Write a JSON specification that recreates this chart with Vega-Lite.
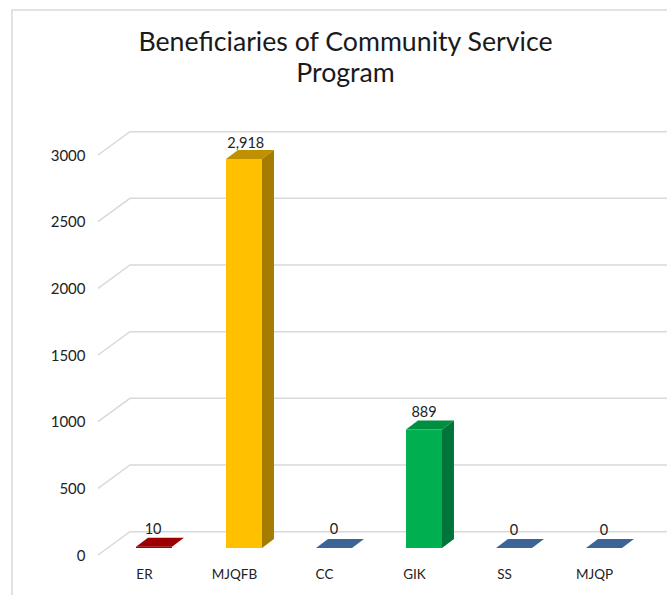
{
"$schema":"https://vega.github.io/schema/vega-lite/v6.json",
"width":577,"height":452,
"autosize":{"type":"none"},
"padding":{"left":90,"top":110,"right":0,"bottom":33},
"background":"white",
"title":{"text":["Beneficiaries of Community Service","Program"],"font":"Lato","fontSize":26.7,"fontWeight":"normal","color":"#1a1a1a","lineHeight":31.5,"anchor":"middle","frame":"group","dx":-33,"offset":-81},
"config":{"view":{"stroke":null}},
"datasets":{
"frame":[{"x":-0.478,"y":-300,"step":1},{"x":-0.478,"y":4087.5,"step":2},{"x":6.8,"y":4087.5,"step":3}],
"grid":[
{"level":0,"x":0.478,"y":0,"step":1},{"level":0,"x":0.833,"y":175,"step":2},{"level":0,"x":6.8,"y":175,"step":3},
{"level":500,"x":0.478,"y":500,"step":1},{"level":500,"x":0.833,"y":675,"step":2},{"level":500,"x":6.8,"y":675,"step":3},
{"level":1000,"x":0.478,"y":1000,"step":1},{"level":1000,"x":0.833,"y":1175,"step":2},{"level":1000,"x":6.8,"y":1175,"step":3},
{"level":1500,"x":0.478,"y":1500,"step":1},{"level":1500,"x":0.833,"y":1675,"step":2},{"level":1500,"x":6.8,"y":1675,"step":3},
{"level":2000,"x":0.478,"y":2000,"step":1},{"level":2000,"x":0.833,"y":2175,"step":2},{"level":2000,"x":6.8,"y":2175,"step":3},
{"level":2500,"x":0.478,"y":2500,"step":1},{"level":2500,"x":0.833,"y":2675,"step":2},{"level":2500,"x":6.8,"y":2675,"step":3},
{"level":3000,"x":0.478,"y":3000,"step":1},{"level":3000,"x":0.833,"y":3175,"step":2},{"level":3000,"x":6.8,"y":3175,"step":3}
],
"faces":[
{"face":"ER top","x":0.9,"y":62.5,"y2":62.5},{"face":"ER top","x":1.033,"y":62.5,"y2":130},{"face":"ER top","x":1.3,"y":62.5,"y2":130},{"face":"ER top","x":1.433,"y":130,"y2":130},
{"face":"ER front","x":0.9,"y":52.5,"y2":62.5},{"face":"ER front","x":1.3,"y":52.5,"y2":62.5},
{"face":"MJQFB top","x":1.9,"y":2970.5,"y2":2970.5},{"face":"MJQFB top","x":2.033,"y":2970.5,"y2":3038},{"face":"MJQFB top","x":2.3,"y":2970.5,"y2":3038},{"face":"MJQFB top","x":2.433,"y":3038,"y2":3038},
{"face":"MJQFB side","x":2.3,"y":52.5,"y2":2970.5},{"face":"MJQFB side","x":2.433,"y":120,"y2":3038},
{"face":"MJQFB front","x":1.9,"y":52.5,"y2":2970.5},{"face":"MJQFB front","x":2.3,"y":52.5,"y2":2970.5},
{"face":"CC top","x":2.9,"y":52.5,"y2":52.5},{"face":"CC top","x":3.033,"y":52.5,"y2":120},{"face":"CC top","x":3.3,"y":52.5,"y2":120},{"face":"CC top","x":3.433,"y":120,"y2":120},
{"face":"GIK top","x":3.9,"y":941.5,"y2":941.5},{"face":"GIK top","x":4.033,"y":941.5,"y2":1009},{"face":"GIK top","x":4.3,"y":941.5,"y2":1009},{"face":"GIK top","x":4.433,"y":1009,"y2":1009},
{"face":"GIK side","x":4.3,"y":52.5,"y2":941.5},{"face":"GIK side","x":4.433,"y":120,"y2":1009},
{"face":"GIK front","x":3.9,"y":52.5,"y2":941.5},{"face":"GIK front","x":4.3,"y":52.5,"y2":941.5},
{"face":"SS top","x":4.9,"y":52.5,"y2":52.5},{"face":"SS top","x":5.033,"y":52.5,"y2":120},{"face":"SS top","x":5.3,"y":52.5,"y2":120},{"face":"SS top","x":5.433,"y":120,"y2":120},
{"face":"MJQP top","x":5.9,"y":52.5,"y2":52.5},{"face":"MJQP top","x":6.033,"y":52.5,"y2":120},{"face":"MJQP top","x":6.3,"y":52.5,"y2":120},{"face":"MJQP top","x":6.433,"y":120,"y2":120}
],
"labels":[
{"category":"ER","value":10,"x":1.09,"y":190},
{"category":"MJQFB","value":2918,"x":2.12,"y":3085},
{"category":"CC","value":0,"x":3.1,"y":185},
{"category":"GIK","value":889,"x":4.1,"y":1067},
{"category":"SS","value":0,"x":5.1,"y":182},
{"category":"MJQP","value":0,"x":6.1,"y":182}
]
},
"encoding":{
"x":{"field":"x","type":"quantitative","scale":{"domain":[0.3889,6.8],"nice":false,"zero":false},
"axis":{"title":null,"values":[1,2,3,4,5,6],"labelExpr":"['','ER','MJQFB','CC','GIK','SS','MJQP'][datum.value]","grid":false,"domain":false,"ticks":false,"labelPadding":5,"labelOffset":-1,"labelFont":"Lato","labelFontSize":13.5,"labelColor":"#222222","labelFlush":false,"labelOverlap":false}},
"y":{"field":"y","type":"quantitative","scale":{"domain":[-52.5,3337.5],"nice":false,"zero":false},
"axis":{"title":null,"values":[0,500,1000,1500,2000,2500,3000],"format":"d","grid":false,"domain":false,"ticks":false,"labelPadding":5,"labelFont":"Lato","labelFontSize":15,"labelColor":"#222222","labelFlush":false,"labelOverlap":false}}
},
"layer":[
{"data":{"name":"frame"},"mark":{"type":"line","color":"#d9d9d9","strokeWidth":1.5,"clip":false},"encoding":{"order":{"field":"step"}}},
{"data":{"name":"grid"},"mark":{"type":"line","color":"#d9d9d9","strokeWidth":1.5},"encoding":{"detail":{"field":"level"},"order":{"field":"step"}}},
{"data":{"name":"faces"},"mark":{"type":"area","orient":"vertical","interpolate":"linear","opacity":1},
"encoding":{"y2":{"field":"y2"},"color":{"field":"face","type":"nominal","legend":null,"scale":{"domain":["ER top","ER front","MJQFB top","MJQFB side","MJQFB front","CC top","GIK top","GIK side","GIK front","SS top","MJQP top"],"range":["#9c0000","#9c0000","#bf9000","#a67c00","#ffc000","#3c6496","#008f40","#00753a","#00b050","#3c6496","#3c6496"]}}}},
{"data":{"name":"labels"},"mark":{"type":"text","font":"Lato","fontSize":14.5,"color":"#222222","align":"center","baseline":"middle"},
"encoding":{"text":{"field":"value","type":"quantitative","format":","}}}
]
}
